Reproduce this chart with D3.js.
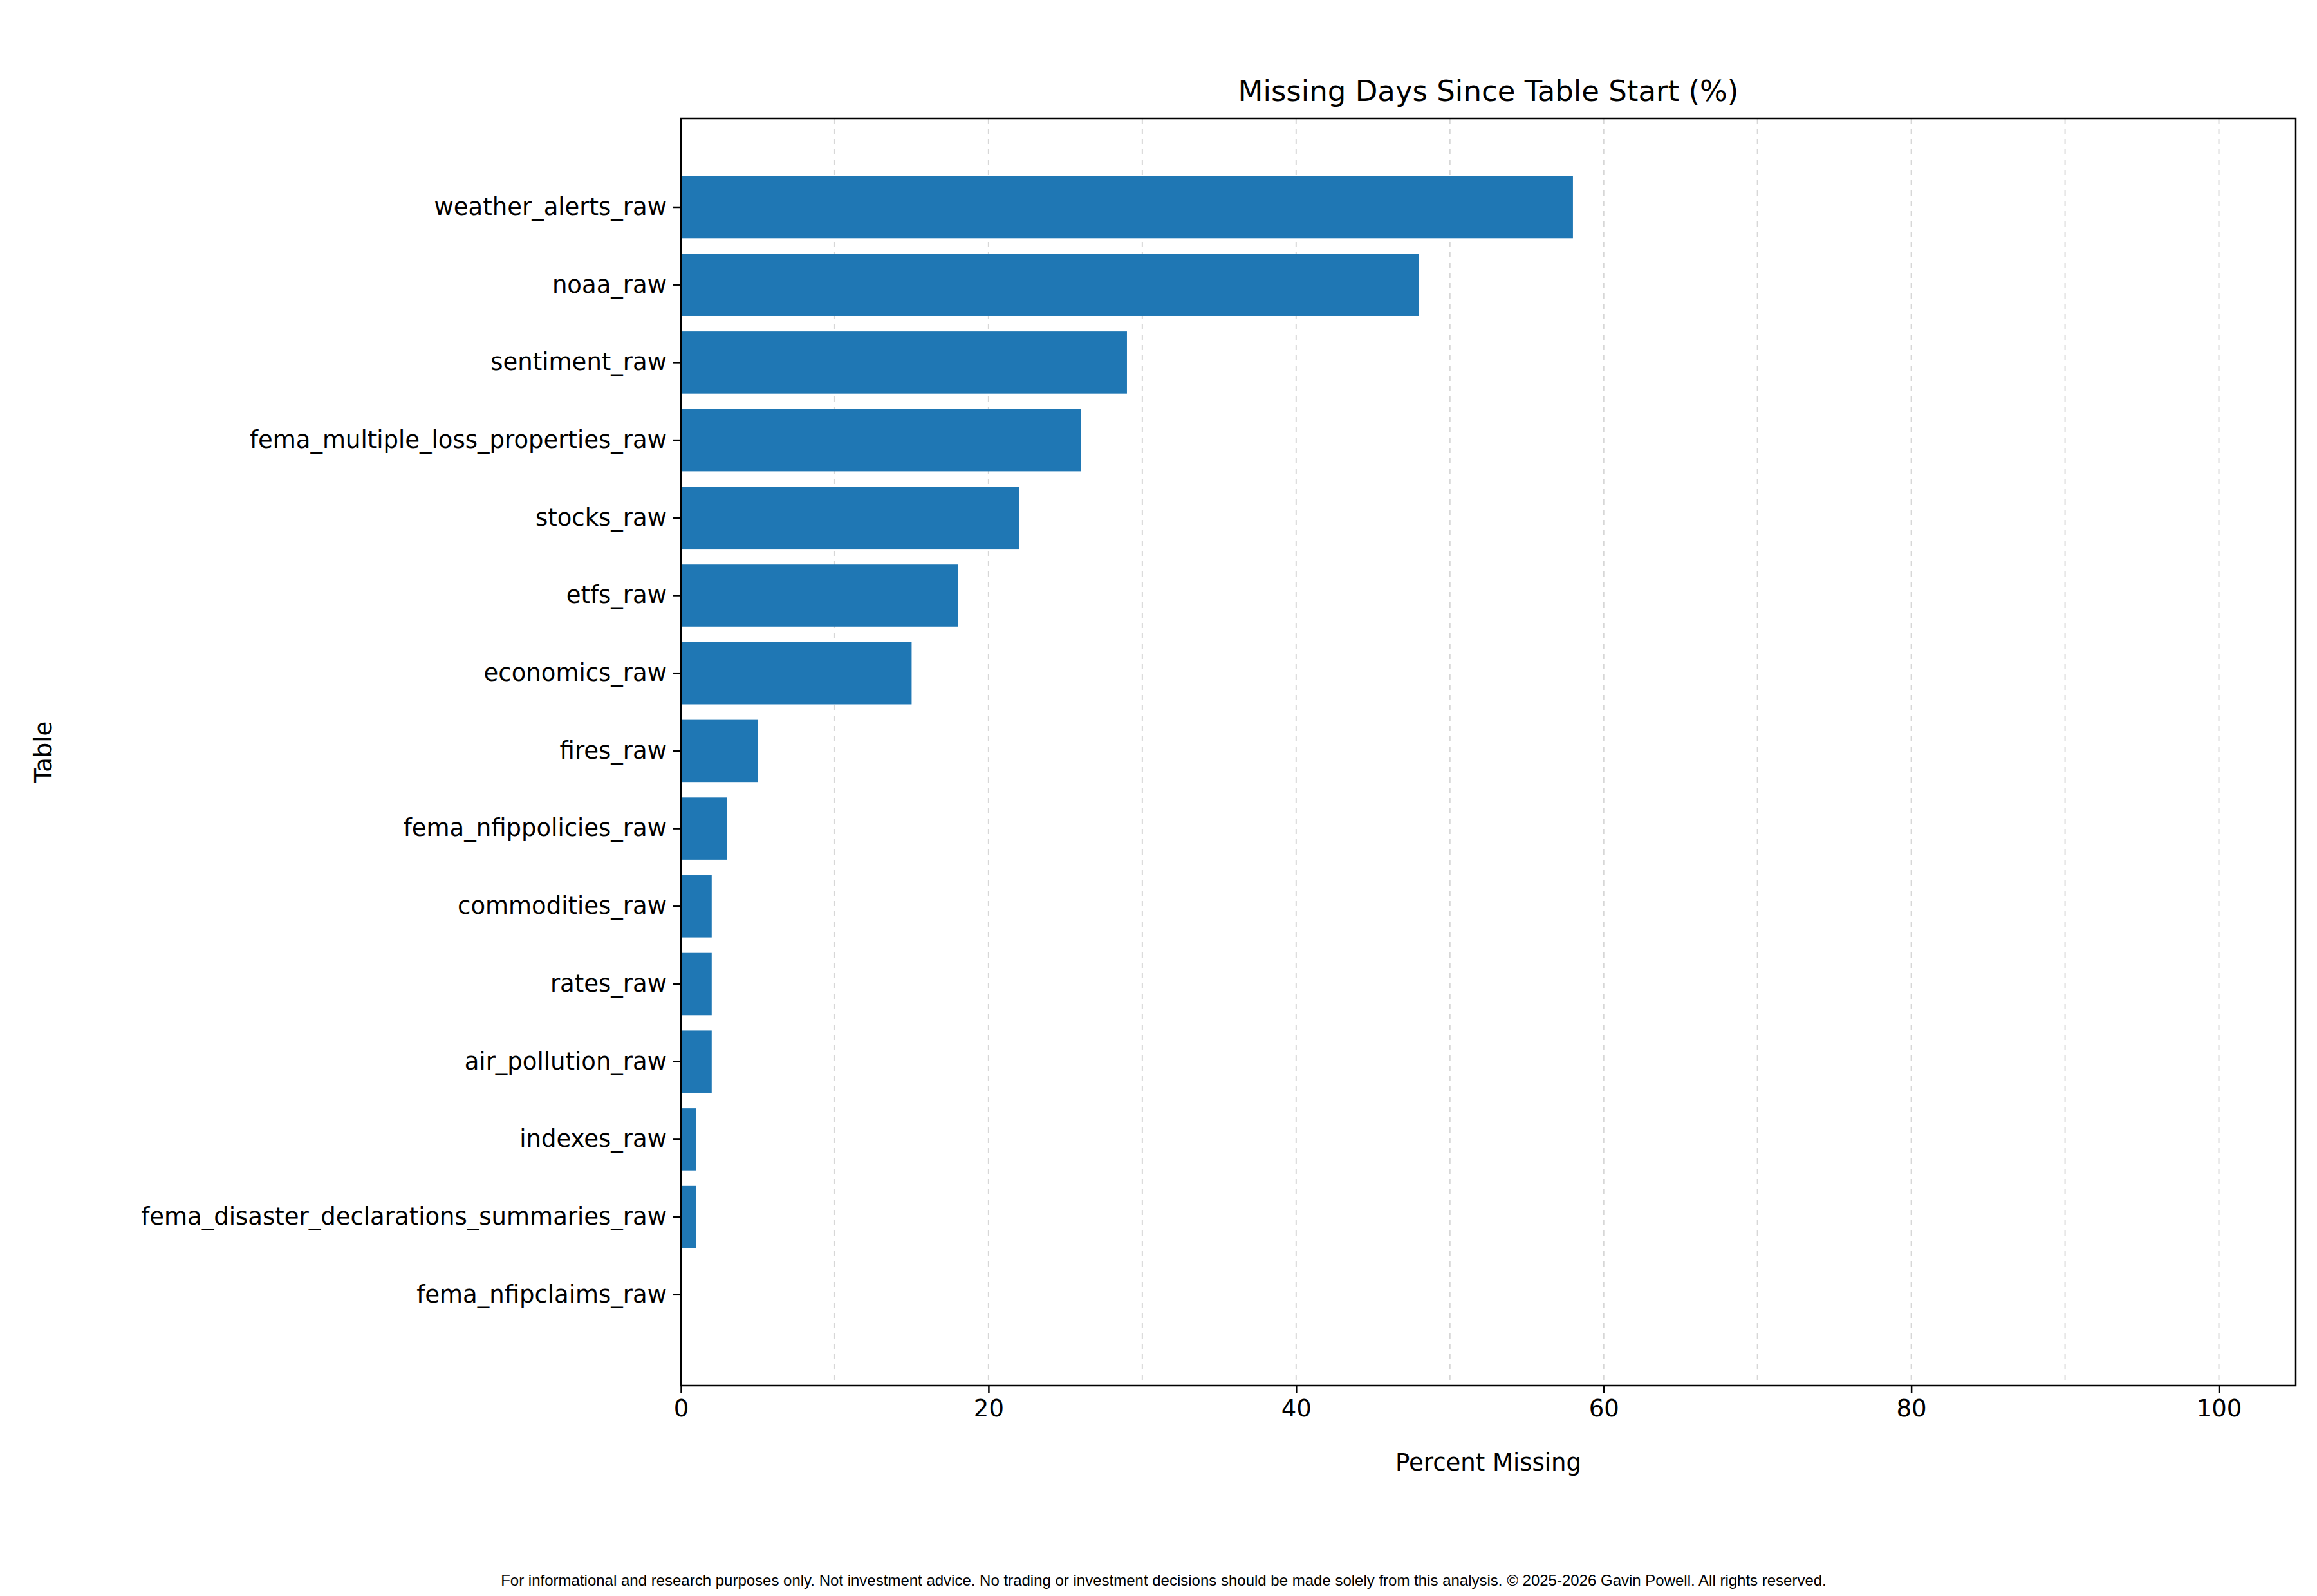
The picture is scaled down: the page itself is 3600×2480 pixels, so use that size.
<!DOCTYPE html>
<html>
<head>
<script src="https://d3js.org/d3.v7.min.js"></script>
<style>body{margin:0;background:#fff}</style>
</head>
<body>
<svg id="chart" width="3600" height="2480"></svg>
<script>
const tables = ['weather_alerts_raw','noaa_raw','sentiment_raw','fema_multiple_loss_properties_raw','stocks_raw','etfs_raw','economics_raw','fires_raw','fema_nfippolicies_raw','commodities_raw','rates_raw','air_pollution_raw','indexes_raw','fema_disaster_declarations_summaries_raw','fema_nfipclaims_raw'];
const pctMissing = [58, 48, 29, 26, 22, 18, 15, 5, 3, 2, 2, 2, 1, 1, 0];
const xTicks = [0, 20, 40, 60, 80, 100];
const gridTicks = [10, 20, 30, 40, 50, 60, 70, 80, 90, 100];

const L = 1058, R = 3567, T = 184, B = 2153;
const font = 'DejaVu Sans';
const svg = d3.select('#chart');

const x = d3.scaleLinear().domain([0, 105]).range([L, R]);
const step = 120.7;
const y = d3.scaleBand().domain(tables).range([322 - step / 2, 322 + step * 14.5]).paddingInner(0.2).paddingOuter(0.1);

svg.append('g').selectAll('line').data(gridTicks).join('line')
  .attr('x1', d => x(d)).attr('x2', d => x(d)).attr('y1', T).attr('y2', B)
  .attr('stroke', '#b0b0b0').attr('stroke-opacity', 0.5).attr('stroke-width', 2)
  .attr('stroke-dasharray', '8,8');

svg.append('g').selectAll('rect').data(tables).join('rect')
  .attr('x', x(0)).attr('y', d => y(d) + (y.step() * 0.8 - y.bandwidth()) / 2)
  .attr('width', (d, i) => x(pctMissing[i]) - x(0))
  .attr('height', y.step() * 0.8).attr('fill', '#1f77b4');

svg.append('rect').attr('x', L).attr('y', T).attr('width', R - L).attr('height', B - T)
  .attr('fill', 'none').attr('stroke', '#000').attr('stroke-width', 2.5);

const xa = svg.append('g').attr('transform', `translate(0,${B})`)
  .call(d3.axisBottom(x).tickValues(xTicks).tickSize(12).tickPadding(10).tickFormat(d3.format('d')));
xa.select('.domain').remove();
xa.selectAll('line').attr('stroke-width', 2.5);
xa.selectAll('text').attr('font-family', font).attr('font-size', 37).attr('fill', '#000');

const ya = svg.append('g').attr('transform', `translate(${L},0)`)
  .call(d3.axisLeft(y).tickSize(12).tickPadding(10));
ya.select('.domain').remove();
ya.selectAll('line').attr('stroke-width', 2.5);
ya.selectAll('text').attr('font-family', font).attr('font-size', 37).attr('fill', '#000');

svg.append('text').attr('x', (L + R) / 2).attr('y', 157).attr('text-anchor', 'middle')
  .attr('font-family', font).attr('font-size', 45).text('Missing Days Since Table Start (%)');
svg.append('text').attr('x', (L + R) / 2).attr('y', 2285).attr('text-anchor', 'middle')
  .attr('font-family', font).attr('font-size', 37).text('Percent Missing');
svg.append('text').attr('transform', `translate(80,${(T + B) / 2}) rotate(-90)`).attr('text-anchor', 'middle')
  .attr('font-family', font).attr('font-size', 37).text('Table');
svg.append('text').attr('x', 1808).attr('y', 2464).attr('text-anchor', 'middle')
  .attr('font-family', 'Liberation Sans').attr('font-size', 24)
  .text('For informational and research purposes only. Not investment advice. No trading or investment decisions should be made solely from this analysis. © 2025-2026 Gavin Powell. All rights reserved.');
</script>
</body>
</html>
